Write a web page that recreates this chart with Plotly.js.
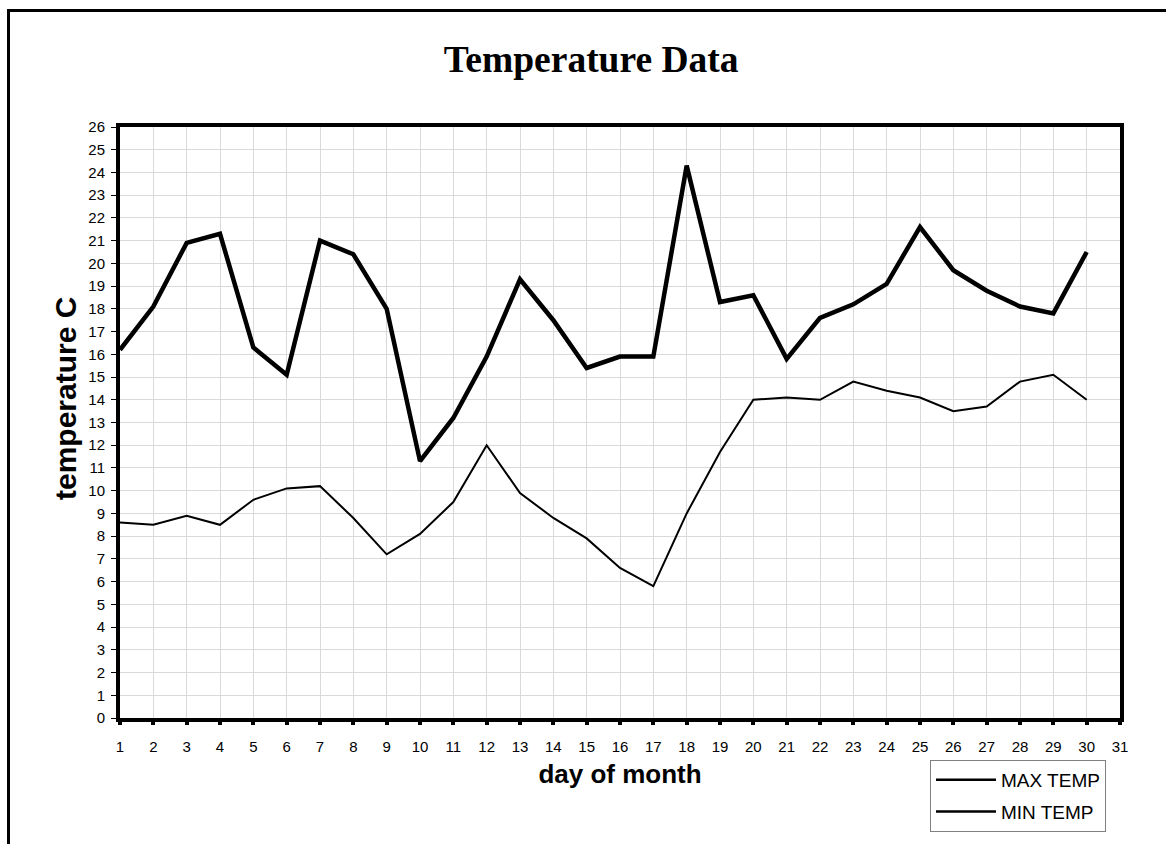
<!DOCTYPE html>
<html>
<head>
<meta charset="utf-8">
<script src="https://cdn.plot.ly/plotly-3.0.1.min.js"></script>
<style>
html,body{margin:0;padding:0;background:#fff;}
#chart{width:1166px;height:844px;position:relative;}
#frame{position:absolute;left:7px;top:9px;width:1200px;height:900px;border-left:3px solid #000;border-top:3px solid #000;pointer-events:none;}
</style>
</head>
<body>
<div id="chart"></div>
<div id="frame"></div>
<script>
const days = [1,2,3,4,5,6,7,8,9,10,11,12,13,14,15,16,17,18,19,20,21,22,23,24,25,26,27,28,29,30];
const maxTemp = [16.2,18.1,20.9,21.3,16.3,15.1,21.0,20.4,18.0,11.3,13.2,15.9,19.3,17.5,15.4,15.9,15.9,24.3,18.3,18.6,15.8,17.6,18.2,19.1,21.6,19.7,18.8,18.1,17.8,20.5];
const minTemp = [8.6,8.5,8.9,8.5,9.6,10.1,10.2,8.8,7.2,8.1,9.5,12.0,9.9,8.8,7.9,6.6,5.8,9.0,11.7,14.0,14.1,14.0,14.8,14.4,14.1,13.5,13.7,14.8,15.1,14.0];
const seriesNames = ['MAX TEMP','MIN TEMP'];

const traces = [
  {x: days, y: maxTemp, name: seriesNames[0], type: 'scatter', mode: 'lines',
   line: {color: '#000', width: 4.5}, showlegend: false, legendgroup: 'a'},
  {x: days, y: minTemp, name: seriesNames[1], type: 'scatter', mode: 'lines',
   line: {color: '#000', width: 2}, showlegend: false, legendgroup: 'b'},
  // legend entries (thin lines, as in the reference legend)
  {x: [null], y: [null], name: seriesNames[0], type: 'scatter', mode: 'lines',
   line: {color: '#000', width: 2.5}, legendgroup: 'a'},
  {x: [null], y: [null], name: seriesNames[1], type: 'scatter', mode: 'lines',
   line: {color: '#000', width: 2.5}, legendgroup: 'b'}
];

const layout = {
  width: 1166, height: 844,
  paper_bgcolor: '#fff', plot_bgcolor: '#fff',
  margin: {l: 120, r: 46, t: 127, b: 126},
  showlegend: true,
  title: {text: '<b>Temperature Data</b>', x: 0.507, xref: 'container', xanchor: 'center',
    y: 0.93, yref: 'container', yanchor: 'middle',
    font: {family: 'Liberation Serif, Times New Roman, serif', size: 37.5, color: '#000'}},
  font: {family: 'Liberation Sans, Arial, sans-serif', color: '#000'},
  xaxis: {
    range: [1, 31], tickmode: 'linear', tick0: 1, dtick: 1, automargin: false,
    showgrid: true, gridcolor: '#d9d9d9', gridwidth: 1,
    showline: true, linecolor: '#000', linewidth: 4, mirror: true,
    ticks: 'outside', ticklen: 3, tickwidth: 4, tickcolor: '#000',
    zeroline: false, tickfont: {size: 15, color: '#000'}, ticklabelstandoff: 9,
    title: {text: '<b>day of month</b>', font: {size: 26, color: '#000'}, standoff: 12}
  },
  yaxis: {
    range: [0, 26], tickmode: 'linear', tick0: 0, dtick: 1, automargin: false,
    showgrid: true, gridcolor: '#d9d9d9', gridwidth: 1,
    showline: true, linecolor: '#000', linewidth: 4, mirror: true,
    ticks: 'outside', ticklen: 5, tickwidth: 1, tickcolor: '#000',
    zeroline: false, tickfont: {size: 15, color: '#000'}, ticklabelstandoff: 3
  },
  annotations: [{
    text: '<b>temperature C</b>', textangle: -90, showarrow: false,
    xref: 'paper', yref: 'paper', x: (65 - 120) / 1000, y: (718 - 399) / 591,
    xanchor: 'center', yanchor: 'middle',
    font: {size: 30, color: '#000', family: 'Liberation Sans, Arial, sans-serif'}
  }],
  legend: {
    x: (930 - 120) / 1000, xanchor: 'left', y: -(832 - 718) / 591, yanchor: 'bottom',
    bordercolor: '#808080', borderwidth: 1, bgcolor: '#fff',
    font: {size: 19, color: '#000'}, tracegroupgap: 4, itemwidth: 60
  }
};

Plotly.newPlot('chart', traces, layout, {displayModeBar: false, staticPlot: true});
</script>
</body>
</html>
